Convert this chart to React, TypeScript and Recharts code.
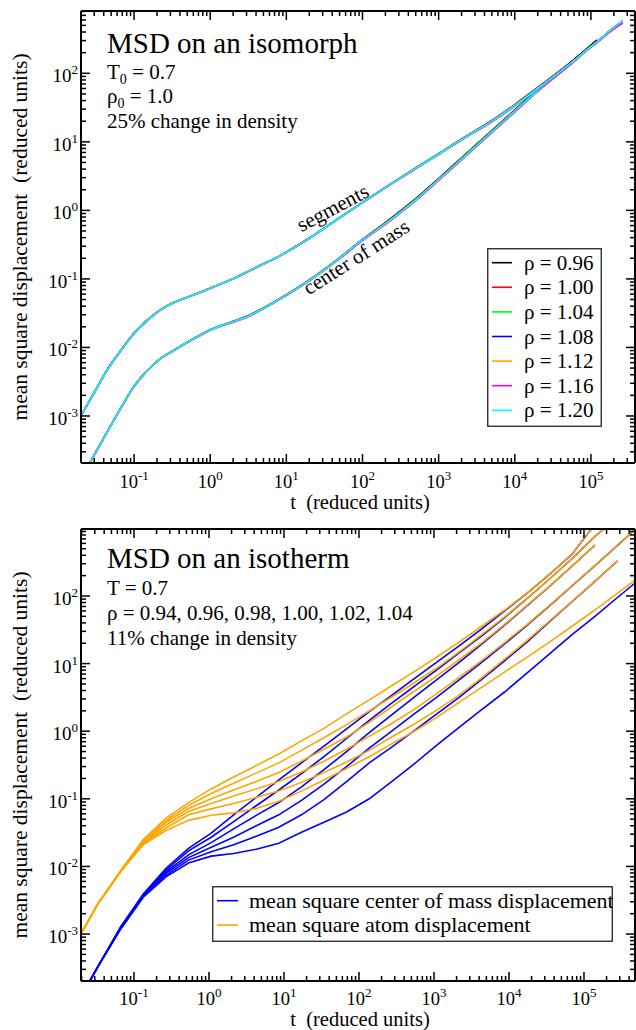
import React from 'react';
import { LineChart, Line, XAxis, YAxis, Legend } from 'recharts';

const FONT = "'Liberation Serif', 'Times New Roman', Tinos, 'DejaVu Serif', serif";

// ---------- top chart (isomorph) ----------
const tTop = [0.02, 0.03, 0.045, 0.067, 0.1, 0.15, 0.22, 0.33, 0.5, 0.75, 1, 1.5, 2.2, 3.3, 5, 7.5, 10, 20, 50, 100, 200, 500, 1000, 2000, 5000, 10000, 20000, 50000, 100000, 120000, 200000, 260000];

const densTop = ['0.96', '1.00', '1.04', '1.08', '1.12', '1.16', '1.20'];
const colorsTop = ['#000000', '#ff0000', '#00ff00', '#0000ff', '#ffa500', '#ff00ff', '#00ffff'];

const segRho096 = [1.0e-3, 2.2e-3, 4.9e-3, 9.1e-3, 0.0162, 0.0252, 0.0352, 0.0452, 0.0542, 0.0642, 0.0732, 0.0882, 0.1062, 0.1322, 0.166, 0.206, 0.247, 0.395, 0.785, 1.31, 2.17, 4.15, 6.7, 11.0, 20.5, 35, 62, 135, 255, 305];
const segRho100 = [1.0e-3, 2.2e-3, 4.85e-3, 9.05e-3, 0.0161, 0.0251, 0.0351, 0.0451, 0.0541, 0.0641, 0.0731, 0.0881, 0.1061, 0.1321, 0.166, 0.206, 0.246, 0.392, 0.782, 1.3, 2.16, 4.12, 6.65, 10.9, 20.2, 34.5, 61, 132, 248, 290, 465, 575];
const segRho104 = [1.0e-3, 2.2e-3, 4.8e-3, 9.0e-3, 0.0161, 0.0251, 0.035, 0.045, 0.054, 0.064, 0.073, 0.088, 0.106, 0.132, 0.165, 0.205, 0.245, 0.391, 0.781, 1.3, 2.15, 4.1, 6.62, 10.8, 20.1, 34.2, 60, 131, 247, 289, 462, 578];
const segRho108 = [1.0e-3, 2.2e-3, 4.8e-3, 9.0e-3, 0.016, 0.025, 0.035, 0.045, 0.054, 0.064, 0.073, 0.088, 0.106, 0.132, 0.165, 0.205, 0.245, 0.39, 0.78, 1.3, 2.15, 4.1, 6.6, 10.8, 20, 34, 60, 130, 246, 288, 460, 572];
const segRho112 = [1.0e-3, 2.2e-3, 4.8e-3, 8.95e-3, 0.0159, 0.0249, 0.0349, 0.0449, 0.0539, 0.0639, 0.0729, 0.0879, 0.106, 0.132, 0.165, 0.205, 0.245, 0.39, 0.779, 1.3, 2.15, 4.09, 6.59, 10.8, 20, 34, 60, 130, 245, 287, 458, 570];
const segRho116 = [0.99e-3, 2.18e-3, 4.75e-3, 8.9e-3, 0.0158, 0.0248, 0.0348, 0.0448, 0.0538, 0.0636, 0.0725, 0.0875, 0.105, 0.131, 0.164, 0.204, 0.243, 0.387, 0.775, 1.29, 2.13, 4.05, 6.5, 10.6, 19.6, 33.3, 59, 128, 240, 281, 445, 540];
const segRho120 = [1.0e-3, 2.2e-3, 4.8e-3, 9.0e-3, 0.016, 0.025, 0.035, 0.045, 0.054, 0.064, 0.073, 0.088, 0.106, 0.132, 0.165, 0.205, 0.245, 0.39, 0.78, 1.3, 2.15, 4.1, 6.6, 10.8, 20, 34, 60, 130, 245, 288, 462, 585];

const comRho096 = [1.2e-4, 2.7e-4, 6.05e-4, 1.31e-3, 2.72e-3, 4.63e-3, 6.85e-3, 9.05e-3, 0.0119, 0.0153, 0.0182, 0.0215, 0.0249, 0.0297, 0.0376, 0.0487, 0.0588, 0.0965, 0.203, 0.376, 0.665, 1.48, 2.92, 5.85, 14.6, 29.2, 58, 133, 255, 305];
const comRho100 = [1.2e-4, 2.7e-4, 6.02e-4, 1.305e-3, 2.71e-3, 4.62e-3, 6.83e-3, 9.03e-3, 0.0119, 0.0153, 0.0181, 0.0214, 0.0247, 0.0295, 0.0373, 0.0484, 0.0585, 0.096, 0.202, 0.373, 0.655, 1.46, 2.88, 5.75, 14.3, 28.7, 57, 131, 248, 290, 465, 575];
const comRho104 = [1.2e-4, 2.7e-4, 6.0e-4, 1.3e-3, 2.7e-3, 4.61e-3, 6.82e-3, 9.02e-3, 0.0118, 0.0152, 0.0181, 0.0213, 0.0246, 0.0293, 0.0371, 0.0482, 0.0582, 0.0955, 0.201, 0.371, 0.648, 1.44, 2.84, 5.68, 14.2, 28.4, 56.5, 129, 247, 289, 462, 578];
const comRho108 = [1.2e-4, 2.7e-4, 6.0e-4, 1.3e-3, 2.7e-3, 4.6e-3, 6.8e-3, 9.0e-3, 0.0118, 0.0152, 0.018, 0.0212, 0.0245, 0.0292, 0.037, 0.048, 0.058, 0.095, 0.2, 0.37, 0.64, 1.42, 2.8, 5.6, 14, 28, 56, 128, 246, 288, 460, 572];
const comRho112 = [1.19e-4, 2.69e-4, 5.98e-4, 1.295e-3, 2.69e-3, 4.59e-3, 6.78e-3, 8.98e-3, 0.0118, 0.0151, 0.0179, 0.0211, 0.0244, 0.0291, 0.0368, 0.0478, 0.0577, 0.0945, 0.199, 0.368, 0.637, 1.41, 2.78, 5.56, 13.9, 27.8, 55.6, 127, 245, 287, 458, 570];
const comRho116 = [1.18e-4, 2.67e-4, 5.95e-4, 1.29e-3, 2.68e-3, 4.57e-3, 6.75e-3, 8.95e-3, 0.0117, 0.015, 0.0178, 0.021, 0.0242, 0.0288, 0.0365, 0.0474, 0.0572, 0.0935, 0.196, 0.362, 0.626, 1.39, 2.73, 5.45, 13.6, 27.2, 54.5, 125, 240, 281, 445, 540];
const comRho120 = [1.2e-4, 2.7e-4, 6.0e-4, 1.3e-3, 2.7e-3, 4.6e-3, 6.8e-3, 9.0e-3, 0.0118, 0.0152, 0.018, 0.0212, 0.0245, 0.0292, 0.037, 0.048, 0.058, 0.095, 0.2, 0.37, 0.64, 1.42, 2.8, 5.6, 14, 28, 56, 128, 245, 288, 462, 585];

const segTop = [segRho096, segRho100, segRho104, segRho108, segRho112, segRho116, segRho120];
const comTop = [comRho096, comRho100, comRho104, comRho108, comRho112, comRho116, comRho120];

// ---------- bottom chart (isotherm) ----------
const tIso = [0.0167, 0.033, 0.067, 0.133, 0.267, 0.533, 1.07, 2.13, 4.27, 8.53, 17.1, 34.1, 68.3, 137, 273, 546, 1092, 2185, 4370, 8740, 17500, 35000, 70000, 140000, 280000, 560000];

const comIso094 = [8.5e-5, 3.3e-4, 1.3e-3, 3.9e-3, 9.4e-3, 0.0185, 0.031, 0.058, 0.105, 0.19, 0.34, 0.6, 1.08, 1.95, 3.4, 6.0, 10.5, 18.5, 33, 60, 110, 210, 420, 1150];
const atomIso094 = [7.3e-4, 2.8e-3, 8.8e-3, 0.025, 0.052, 0.088, 0.14, 0.21, 0.31, 0.46, 0.72, 1.1, 1.8, 2.9, 4.7, 7.6, 12.5, 21, 36, 62, 111, 212, 422, 1150];
const comIso096 = [8.5e-5, 3.3e-4, 1.28e-3, 3.8e-3, 8.8e-3, 0.017, 0.027, 0.046, 0.079, 0.135, 0.235, 0.42, 0.78, 1.45, 2.6, 4.6, 8.1, 14.5, 26, 48, 92, 180, 360, 760, 1450];
const atomIso096 = [7.3e-4, 2.8e-3, 8.7e-3, 0.024, 0.048, 0.08, 0.12, 0.17, 0.24, 0.34, 0.52, 0.8, 1.25, 2.0, 3.2, 5.2, 8.6, 15, 27, 49, 93, 181, 361, 760, 1450];
const comIso098 = [8.5e-5, 3.3e-4, 1.25e-3, 3.7e-3, 8.3e-3, 0.0148, 0.0225, 0.036, 0.057, 0.088, 0.15, 0.27, 0.5, 0.95, 1.75, 3.2, 5.8, 10.5, 19.5, 37, 72, 140, 278, 565];
const atomIso098 = [7.3e-4, 2.8e-3, 8.6e-3, 0.023, 0.045, 0.072, 0.1, 0.135, 0.18, 0.245, 0.36, 0.54, 0.82, 1.35, 2.3, 3.9, 6.6, 11.5, 20.5, 38, 73, 141, 279, 565];
const comIso100 = [8.5e-5, 3.3e-4, 1.25e-3, 3.6e-3, 7.9e-3, 0.0135, 0.0192, 0.027, 0.04, 0.058, 0.095, 0.165, 0.3, 0.56, 1.0, 1.8, 3.2, 5.8, 10.5, 19.5, 37, 72, 142, 282, 562, 1130];
const atomIso100 = [7.3e-4, 2.8e-3, 8.6e-3, 0.022, 0.041, 0.065, 0.085, 0.11, 0.14, 0.18, 0.25, 0.36, 0.54, 0.84, 1.3, 2.1, 3.6, 6.3, 11.2, 20.5, 38, 73, 143, 283, 563, 1130];
const comIso102 = [8.5e-5, 3.3e-4, 1.22e-3, 3.6e-3, 7.4e-3, 0.0124, 0.0165, 0.021, 0.028, 0.038, 0.058, 0.097, 0.18, 0.34, 0.58, 1.02, 1.8, 3.2, 5.9, 11, 21, 42, 83, 165, 330];
const atomIso102 = [7.3e-4, 2.8e-3, 8.5e-3, 0.0215, 0.037, 0.058, 0.071, 0.085, 0.105, 0.13, 0.175, 0.245, 0.35, 0.52, 0.82, 1.28, 2.05, 3.45, 6.2, 11.6, 22, 43, 84, 166, 330];
const comIso104 = [8.5e-5, 3.3e-4, 1.2e-3, 3.5e-3, 7.0e-3, 0.0112, 0.0142, 0.0155, 0.018, 0.022, 0.032, 0.045, 0.064, 0.1, 0.18, 0.33, 0.62, 1.15, 2.1, 3.8, 7.3, 14, 27, 50, 95, 180];
const atomIso104 = [7.3e-4, 2.8e-3, 8.5e-3, 0.021, 0.034, 0.048, 0.057, 0.062, 0.072, 0.092, 0.13, 0.19, 0.28, 0.42, 0.65, 1.0, 1.6, 2.7, 4.5, 7.5, 12.5, 21, 36, 62, 110, 195];

const comIso = [comIso094, comIso096, comIso098, comIso100, comIso102, comIso104];
const atomIso = [atomIso094, atomIso096, atomIso098, atomIso100, atomIso102, atomIso104];

const legendIso = ['mean square center of mass displacement', 'mean square atom displacement'];
const colorsIso = ['#0000ff', '#ffa500'];

// ---------- axes ----------
const X_TOP: [number, number] = [0.0201, 3.79e5];
const Y_TOP: [number, number] = [2.06e-4, 811];
const X_BOT: [number, number] = [0.01965, 4.79e5];
const Y_BOT: [number, number] = [2.02e-4, 979];

const logTicks = (lo: number, hi: number) => {
  const out: number[] = [];
  for (let e = -5; e <= 6; e++) {
    for (let m = 1; m <= 9; m++) {
      const v = Number((m * Math.pow(10, e)).toPrecision(6));
      if (v >= lo && v <= hi) out.push(v);
    }
  }
  return out;
};

const zip = (ts: number[], ys: number[]) => ys.map((y, i) => ({ t: ts[i], y }));

type Side = 'bottom' | 'top' | 'left' | 'right';
const makeTick = (side: Side, showLabel: boolean, labelOffset = 25) => (props: any) => {
  const { x, y, payload } = props;
  const v = payload.value as number;
  const lg = Math.log10(v);
  const e = Math.round(lg);
  const major = Math.abs(lg - e) < 1e-6;
  const len = major ? 9 : 5;
  let x2 = x;
  let y2 = y;
  if (side === 'bottom') y2 = y - len;
  if (side === 'top') y2 = y + len;
  if (side === 'left') x2 = x + len;
  if (side === 'right') x2 = x - len;
  return (
    <g>
      <line x1={x} y1={y} x2={x2} y2={y2} stroke="#000" strokeWidth={1.5} />
      {showLabel && major && side === 'bottom' && (
        <text x={x} y={y + labelOffset} textAnchor="middle" fontSize={18.5} fontFamily={FONT} fill="#000">
          10<tspan fontSize={13} dy={-8}>{String(e)}</tspan>
        </text>
      )}
      {showLabel && major && side === 'left' && (
        <text x={x - 3} y={y + 9} textAnchor="end" fontSize={19} fontFamily={FONT} fill="#000">
          10<tspan fontSize={13} dy={-8}>{String(e)}</tspan>
        </text>
      )}
    </g>
  );
};

const axisLine = { stroke: '#000', strokeWidth: 2 };

const TopLegend = () => (
  <svg width={115} height={179} style={{ display: 'block' }}>
    <rect x={0.75} y={0.75} width={113.5} height={177.5} fill="#fff" stroke="#222" strokeWidth={1.3} />
    {densTop.map((d, i) => (
      <g key={d}>
        <line x1={5} x2={25} y1={14.7 + i * 24.6} y2={14.7 + i * 24.6} stroke={colorsTop[i]} strokeWidth={1.6} />
        <text x={37} y={14.7 + i * 24.6 + 7} fontSize={21} fontFamily={FONT} fill="#000">
          {'ρ = ' + d}
        </text>
      </g>
    ))}
  </svg>
);

const BottomLegend = () => (
  <svg width={401} height={56} style={{ display: 'block' }}>
    <rect x={0.75} y={0.75} width={399.5} height={54.5} fill="#fff" stroke="#222" strokeWidth={1.3} />
    {legendIso.map((d, i) => (
      <g key={d}>
        <line x1={5} x2={26} y1={14.7 + i * 24.3} y2={14.7 + i * 24.3} stroke={colorsIso[i]} strokeWidth={1.6} />
        <text x={37} y={14.7 + i * 24.3 + 7} fontSize={22} fontFamily={FONT} fill="#000">
          {d}
        </text>
      </g>
    ))}
  </svg>
);

const TopChart = () => {
  const xt = logTicks(X_TOP[0], X_TOP[1]);
  const yt = logTicks(Y_TOP[0], Y_TOP[1]);
  return (
    <LineChart width={636} height={515} margin={{ top: 0, right: 0, bottom: 0, left: 0 }}>
      <XAxis xAxisId="b" orientation="bottom" dataKey="t" type="number" scale="log" domain={X_TOP} allowDataOverflow ticks={xt} interval={0} tickSize={0} tickMargin={0} tickLine={false} axisLine={axisLine} tick={makeTick('bottom', true, 25)} height={52} />
      <XAxis xAxisId="t" orientation="top" dataKey="t" type="number" scale="log" domain={X_TOP} allowDataOverflow ticks={xt} interval={0} tickSize={0} tickMargin={0} tickLine={false} axisLine={axisLine} tick={makeTick('top', false)} height={11} />
      <YAxis yAxisId="l" orientation="left" dataKey="y" type="number" scale="log" domain={Y_TOP} allowDataOverflow ticks={yt} interval={0} tickSize={0} tickMargin={0} tickLine={false} axisLine={axisLine} tick={makeTick('left', true)} width={81} />
      <YAxis yAxisId="r" orientation="right" dataKey="y" type="number" scale="log" domain={Y_TOP} allowDataOverflow ticks={yt} interval={0} tickSize={0} tickMargin={0} tickLine={false} axisLine={axisLine} tick={makeTick('right', false)} width={1} />
      {comTop.map((arr, i) => (
        <Line key={'c' + i} data={zip(tTop, arr)} dataKey="y" xAxisId="b" yAxisId="l" type="monotone" stroke={colorsTop[i]} strokeWidth={1.6} dot={false} isAnimationActive={false} legendType="none" />
      ))}
      {segTop.map((arr, i) => (
        <Line key={'s' + i} data={zip(tTop, arr)} dataKey="y" xAxisId="b" yAxisId="l" type="monotone" stroke={colorsTop[i]} strokeWidth={1.6} dot={false} isAnimationActive={false} name={'ρ = ' + densTop[i]} />
      ))}
      <Legend layout="vertical" align="center" verticalAlign="middle" content={() => <TopLegend />} wrapperStyle={{ position: 'absolute', left: 487, top: 248, width: 115, height: 179 }} />
    </LineChart>
  );
};

const BottomChart = () => {
  const xt = logTicks(X_BOT[0], X_BOT[1]);
  const yt = logTicks(Y_BOT[0], Y_BOT[1]);
  return (
    <LineChart width={636} height={515} margin={{ top: 0, right: 0, bottom: 0, left: 0 }}>
      <XAxis xAxisId="b" orientation="bottom" dataKey="t" type="number" scale="log" domain={X_BOT} allowDataOverflow ticks={xt} interval={0} tickSize={0} tickMargin={0} tickLine={false} axisLine={axisLine} tick={makeTick('bottom', true, 23.5)} height={49} />
      <XAxis xAxisId="t" orientation="top" dataKey="t" type="number" scale="log" domain={X_BOT} allowDataOverflow ticks={xt} interval={0} tickSize={0} tickMargin={0} tickLine={false} axisLine={axisLine} tick={makeTick('top', false)} height={14} />
      <YAxis yAxisId="l" orientation="left" dataKey="y" type="number" scale="log" domain={Y_BOT} allowDataOverflow ticks={yt} interval={0} tickSize={0} tickMargin={0} tickLine={false} axisLine={axisLine} tick={makeTick('left', true)} width={81} />
      <YAxis yAxisId="r" orientation="right" dataKey="y" type="number" scale="log" domain={Y_BOT} allowDataOverflow ticks={yt} interval={0} tickSize={0} tickMargin={0} tickLine={false} axisLine={axisLine} tick={makeTick('right', false)} width={1} />
      {comIso.map((arr, i) => (
        <Line key={'c' + i} data={zip(tIso, arr)} dataKey="y" xAxisId="b" yAxisId="l" type="linear" stroke={colorsIso[0]} strokeWidth={1.6} dot={false} isAnimationActive={false} name={legendIso[0]} />
      ))}
      {atomIso.map((arr, i) => (
        <Line key={'a' + i} data={zip(tIso, arr)} dataKey="y" xAxisId="b" yAxisId="l" type="linear" stroke={colorsIso[1]} strokeWidth={1.6} dot={false} isAnimationActive={false} name={legendIso[1]} />
      ))}
      <Legend layout="vertical" align="center" verticalAlign="middle" content={() => <BottomLegend />} wrapperStyle={{ position: 'absolute', left: 212, top: 371, width: 401, height: 56 }} />
    </LineChart>
  );
};

const txt = { fontFamily: FONT, fill: '#000' } as const;

export default function App() {
  return (
    <div style={{ position: 'absolute', left: 0, top: 0, width: 636, height: 1030, background: '#fff', fontFamily: FONT }}>
      <div style={{ position: 'absolute', left: 0, top: 0 }}>
        <TopChart />
      </div>
      <div style={{ position: 'absolute', left: 0, top: 515 }}>
        <BottomChart />
      </div>
      <svg width={636} height={1030} style={{ position: 'absolute', left: 0, top: 0, pointerEvents: 'none' }}>
        {/* top panel texts */}
        <text x={107} y={53} fontSize={29} {...txt}>MSD on an isomorph</text>
        <text x={107} y={79} fontSize={21} {...txt}>T<tspan fontSize={14} dy={5}>0</tspan><tspan dy={-5}> = 0.7</tspan></text>
        <text x={107} y={103} fontSize={21} {...txt}>ρ<tspan fontSize={14} dy={5}>0</tspan><tspan dy={-5}> = 1.0</tspan></text>
        <text x={107} y={128} fontSize={21} {...txt}>25% change in density</text>
        <text transform="translate(336,214) rotate(-28)" textAnchor="middle" fontSize={21} {...txt}>segments</text>
        <text transform="translate(360,263) rotate(-32.5)" textAnchor="middle" fontSize={21} {...txt}>center of mass</text>
        <text x={360} y={509} textAnchor="middle" fontSize={20.5} {...txt} style={{ whiteSpace: 'pre' }}>{'t  (reduced units)'}</text>
        <text transform="translate(27,237) rotate(-90)" textAnchor="middle" fontSize={21.5} {...txt} style={{ whiteSpace: 'pre' }}>{'mean square displacement  (reduced units)'}</text>
        {/* bottom panel texts */}
        <text x={107} y={568} fontSize={29} {...txt}>MSD on an isotherm</text>
        <text x={107} y={595} fontSize={21} {...txt}>T = 0.7</text>
        <text x={107} y={620} fontSize={21} {...txt}>ρ = 0.94, 0.96, 0.98, 1.00, 1.02, 1.04</text>
        <text x={107} y={645} fontSize={21} {...txt}>11% change in density</text>
        <text x={360} y={1025.5} textAnchor="middle" fontSize={20.5} {...txt} style={{ whiteSpace: 'pre' }}>{'t  (reduced units)'}</text>
        <text transform="translate(27,755) rotate(-90)" textAnchor="middle" fontSize={21.5} {...txt} style={{ whiteSpace: 'pre' }}>{'mean square displacement  (reduced units)'}</text>
      </svg>
    </div>
  );
}
